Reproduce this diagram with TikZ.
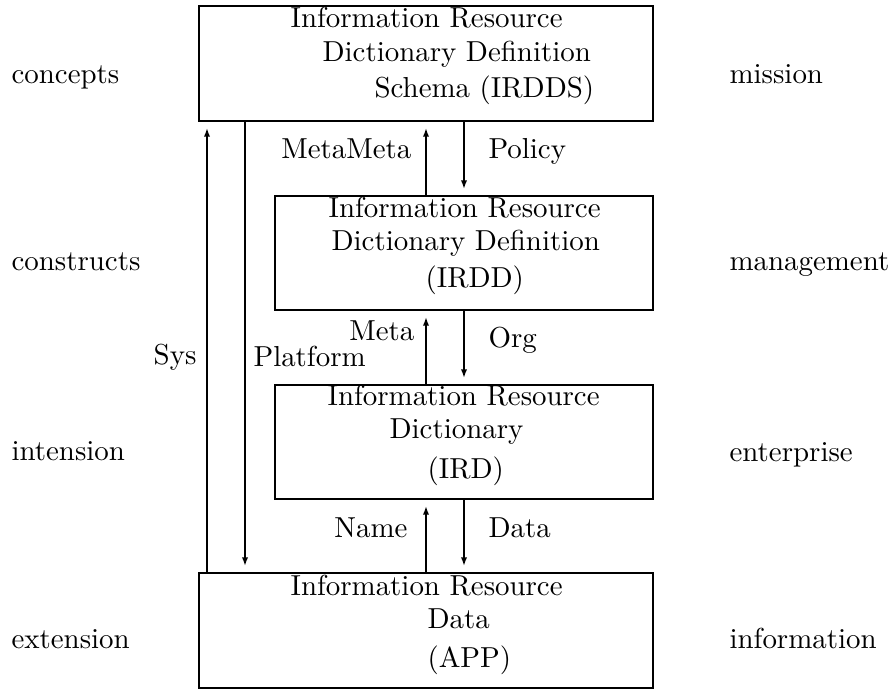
\documentclass[tikz,border=0pt]{standalone}
\usetikzlibrary{arrows.meta,fit}
\begin{document}
\begin{tikzpicture}[x=0.346pt,y=-0.346pt,
  box/.style={draw,line width=0.85pt,inner sep=0pt,rectangle},
  txt/.style={inner sep=0pt,anchor=base west,font=\fontsize{10}{12}\selectfont},
  txtr/.style={inner sep=0pt,anchor=base east,font=\fontsize{10}{12}\selectfont},
  arr/.style={line width=0.8pt,-{Latex[length=3pt,width=2.2pt]},shorten >=2pt}]
\useasboundingbox (0,0) rectangle (891,689);
% boxes
\node[box,fit={(199,6) (653,121)}] (b1) {};
\node[box,fit={(275,196) (653,310)}] (b2) {};
\node[box,fit={(275,385) (653,499)}] (b3) {};
\node[box,fit={(199,573) (653,688)}] (b4) {};
% box texts
\node[txt] (t11) at (290,27) {Information Resource};
\node[txt] (t12) at (322,61) {Dictionary Definition};
\node[txt] (t13) at (374,97) {Schema (IRDDS)};
\node[txt] (t21) at (328,217) {Information Resource};
\node[txt] (t22) at (331,250) {Dictionary Definition};
\node[txt] (t23) at (425,287) {(IRDD)};
\node[txt] (t31) at (327,405) {Information Resource};
\node[txt] (t32) at (389,438) {Dictionary};
\node[txt] (t33) at (427,478) {(IRD)};
\node[txt] (t41) at (290,595) {Information Resource};
\node[txt] (t42) at (427,628) {Data};
\node[txt] (t43) at (427,667) {(APP)};
% side labels
\node[txt] (l1) at (11,83) {concepts};
\node[txt] (l2) at (11,270) {constructs};
\node[txt] (l3) at (11,460) {intension};
\node[txt] (l4) at (11,648) {extension};
\node[txt] (r1) at (729,83) {mission};
\node[txt] (r2) at (729,270) {management};
\node[txt] (r3) at (729,461) {enterprise};
\node[txt] (r4) at (729,648) {information};
% arrow x positions
\coordinate (xsys) at (207,0);
\coordinate (xplat) at (245,0);
\coordinate (xup) at (426,0);
\coordinate (xdn) at (464,0);
% arrows
\draw[arr] (b4.north -| xsys) -- (b1.south -| xsys);
\draw[arr] (b1.south -| xplat) -- (b4.north -| xplat);
\draw[arr] (b2.north -| xup) -- (b1.south -| xup);
\draw[arr] (b1.south -| xdn) -- (b2.north -| xdn);
\draw[arr] (b3.north -| xup) -- (b2.south -| xup);
\draw[arr] (b2.south -| xdn) -- (b3.north -| xdn);
\draw[arr] (b4.north -| xup) -- (b3.south -| xup);
\draw[arr] (b3.south -| xdn) -- (b4.north -| xdn);
% arrow labels
\node[txtr] (lmm) at (412,158) {MetaMeta};
\node[txt] (lpol) at (488,158) {Policy};
\node[txtr] (lmeta) at (415,340) {Meta};
\node[txt] (lorg) at (488,347) {Org};
\node[txtr] (lsys) at (197,364) {Sys};
\node[txt] (lplat) at (253,366) {Platform};
\node[txtr] (lname) at (408,537) {Name};
\node[txt] (ldata) at (488,537) {Data};
\end{tikzpicture}
\end{document}
